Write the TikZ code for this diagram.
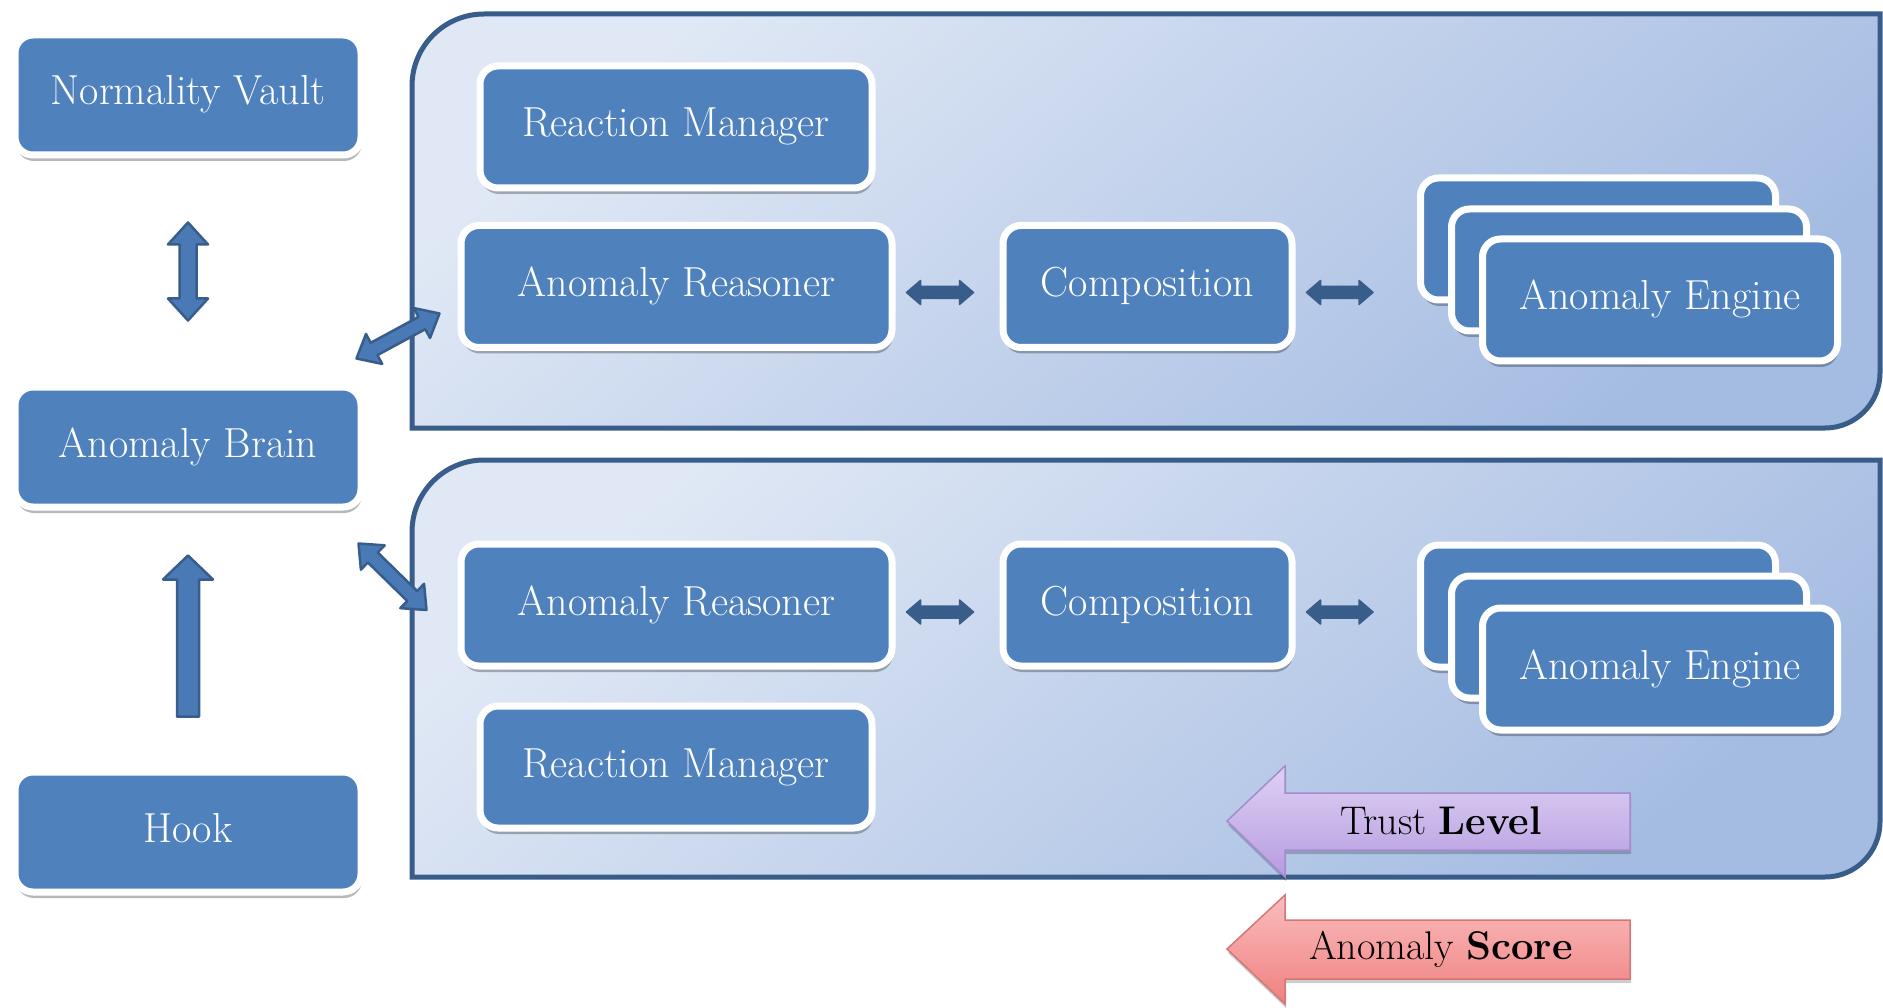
\documentclass[tikz,border=0pt]{standalone}
\usepackage{fontspec}
\usetikzlibrary{calc,shadows}
\definecolor{boxblue}{HTML}{4F81BD}
\definecolor{darkblue}{HTML}{385D8A}
\definecolor{arrowblue}{HTML}{4A7AB5}
\definecolor{panelA}{HTML}{E0E8F5}
\definecolor{panelB}{HTML}{A5BCE2}
\definecolor{trustTop}{HTML}{DED1F4}
\definecolor{trustBot}{HTML}{B69CE0}
\definecolor{trustEdge}{HTML}{A48BD0}
\definecolor{scoreTop}{HTML}{FBBDBD}
\definecolor{scoreBot}{HTML}{EF8080}
\definecolor{scoreEdge}{HTML}{D37777}
\newcommand\bxfont{\fontsize{42}{46}\selectfont}
\newcommand\lblfont{\fontsize{40}{44}\selectfont}
\tikzset{
  box/.style={draw=white, line width=7pt, fill=boxblue, rounded corners=18pt,
    text=white, font=\bxfont, inner sep=0pt, text height=29pt, text depth=9pt,
    drop shadow={shadow xshift=1pt, shadow yshift=-6pt, opacity=0.28, fill=black}},
  leftbox/.style={box, minimum width=346pt, minimum height=120pt},
  panel/.style={draw=darkblue, line width=5pt, top color=panelA, bottom color=panelB, shading angle=40},
  dblblock/.style n args={3}{to path={let \p1=(\tikztostart), \p2=(\tikztotarget),
      \n1={atan2(\y2-\y1,\x2-\x1)} in
      (\p1) -- ($(\p1)+(\n1:#2)+({\n1+90}:#3)$) -- ($(\p1)+(\n1:#2)+({\n1+90}:#1)$)
      -- ($(\p2)+({\n1+180}:#2)+({\n1+90}:#1)$) -- ($(\p2)+({\n1+180}:#2)+({\n1+90}:#3)$)
      -- (\p2) -- ($(\p2)+({\n1+180}:#2)+({\n1-90}:#3)$) -- ($(\p2)+({\n1+180}:#2)+({\n1-90}:#1)$)
      -- ($(\p1)+(\n1:#2)+({\n1-90}:#1)$) -- ($(\p1)+(\n1:#2)+({\n1-90}:#3)$) -- cycle}},
  sglblock/.style n args={3}{to path={let \p1=(\tikztostart), \p2=(\tikztotarget),
      \n1={atan2(\y2-\y1,\x2-\x1)} in
      ($(\p1)+({\n1+90}:#1)$) -- ($(\p2)+({\n1+180}:#2)+({\n1+90}:#1)$)
      -- ($(\p2)+({\n1+180}:#2)+({\n1+90}:#3)$) -- (\p2)
      -- ($(\p2)+({\n1+180}:#2)+({\n1-90}:#3)$) -- ($(\p2)+({\n1+180}:#2)+({\n1-90}:#1)$)
      -- ($(\p1)+({\n1-90}:#1)$) -- cycle}},
  bigarrow/.style={fill=arrowblue, draw=darkblue, line width=2.5pt, line join=round},
  smallarrow/.style={fill=darkblue, draw=darkblue, line width=1.5pt, line join=round},
  lbl/.style={font=\lblfont, text=black, inner sep=0pt},
}
\begin{document}
\begin{tikzpicture}[x=1pt, y=-1pt]
\fill[white] (0,0) rectangle (1883,1008);
\useasboundingbox (0,0) rectangle (1883,1008);

% panels
\path[panel] (412,428) -- (412,86) arc[start angle=180, end angle=270, radius=72]
  -- (1880,14) -- (1880,373) arc[start angle=0, end angle=90, radius=55] -- cycle;
\path[panel] (412,877) -- (412,532) arc[start angle=180, end angle=270, radius=72]
  -- (1880,460) -- (1880,822) arc[start angle=0, end angle=90, radius=55] -- cycle;

% left column
\node[leftbox] (nv) at (188,95) {Normality Vault};
\node[leftbox] (brain) at (188,447) {Anomaly Brain};
\node[leftbox] (hook) at (188,832) {Hook};

% top panel
\node[box, minimum width=392pt, minimum height=122pt] (rmt) at (676,127) {Reaction Manager};
\node[box, minimum width=431pt, minimum height=122pt] (art) at (676.5,286.5) {Anomaly Reasoner};
\node[box, minimum width=289pt, minimum height=122pt] (compt) at (1147.5,286.5) {Composition};
\node[box, minimum width=355pt, minimum height=122pt] (engtA) at (1598,239) {};
\node[box, minimum width=355pt, minimum height=122pt] (engtB) at (1629,270) {};
\node[box, minimum width=355pt, minimum height=122pt] (engtC) at (1660,300) {Anomaly Engine};

% bottom panel
\node[box, minimum width=431pt, minimum height=122pt] (arb) at (676.5,605) {Anomaly Reasoner};
\node[box, minimum width=289pt, minimum height=122pt] (compb) at (1147.5,605) {Composition};
\node[box, minimum width=392pt, minimum height=122pt] (rmb) at (676,767) {Reaction Manager};
\node[box, minimum width=355pt, minimum height=122pt] (engbA) at (1598,606) {};
\node[box, minimum width=355pt, minimum height=122pt] (engbB) at (1629,637) {};
\node[box, minimum width=355pt, minimum height=122pt] (engbC) at (1660,669) {Anomaly Engine};

% connectors
\draw[bigarrow, dblblock={8.5pt}{22pt}{20pt}] ($(nv.south)+(0,64)$) to ($(brain.north)+(0,-63)$);
\draw[bigarrow, sglblock={11pt}{24pt}{25pt}] ($(hook.north)+(0,-52)$) to ($(brain.south)+(0,45)$);
\draw[bigarrow, dblblock={7pt}{20pt}{17pt}] ($(brain.north east)+(-8,-25)$) to ($(art.west)+(-18,27)$);
\draw[bigarrow, dblblock={7pt}{20pt}{17pt}] ($(brain.south east)+(-6,33)$) to ($(arb.west)+(-31,5)$);
\draw[smallarrow, dblblock={6pt}{14pt}{12pt}] ($(art.east)+(11,6)$) to ($(compt.west)+(-26,6)$);
\draw[smallarrow, dblblock={6pt}{14pt}{12pt}] ($(compt.east)+(11,6)$) to ($(engtA.west |- compt.east)+(-44,6)$);
\draw[smallarrow, dblblock={6pt}{14pt}{12pt}] ($(arb.east)+(11,7)$) to ($(compb.west)+(-26,7)$);
\draw[smallarrow, dblblock={6pt}{14pt}{12pt}] ($(compb.east)+(11,7)$) to ($(engbA.west |- compb.east)+(-44,7)$);

% trust level / anomaly score
\path[draw=trustEdge, line width=1.5pt, top color=trustTop, bottom color=trustBot,
  drop shadow={shadow xshift=1pt, shadow yshift=-4pt, opacity=0.2, fill=black}]
  (1227,821) -- (1285,766) -- (1285,793) -- (1630,793) -- (1630,850) -- (1285,850) -- (1285,877) -- cycle;
\node[lbl] (trust) at (1441,821) {Trust \textbf{Level}};
\path[draw=scoreEdge, line width=1.5pt, top color=scoreTop, bottom color=scoreBot,
  drop shadow={shadow xshift=1pt, shadow yshift=-4pt, opacity=0.2, fill=black}]
  (1227,949) -- (1285,895) -- (1285,920) -- (1630,920) -- (1630,979) -- (1285,979) -- (1285,1004) -- cycle;
\node[lbl] (score) at (1441,949) {Anomaly \textbf{Score}};
\end{tikzpicture}
\end{document}
